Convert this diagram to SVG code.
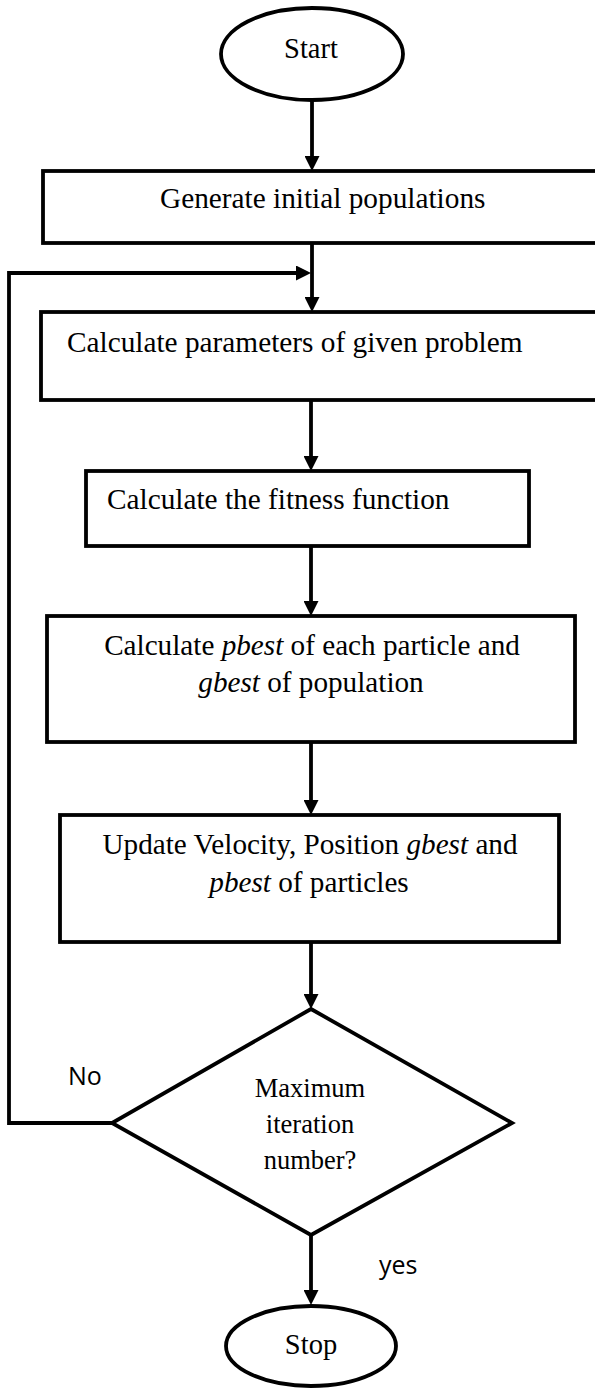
<svg xmlns="http://www.w3.org/2000/svg" width="595" height="1388" viewBox="0 0 595 1388">
<style>
.shape{fill:#fff;stroke:#000;stroke-width:3.8}
.line{fill:none;stroke:#000;stroke-width:3.8}
.t{font-family:"Liberation Serif","Times New Roman",serif;fill:#000}
.lbl{font-family:"Open Sans","Liberation Sans",sans-serif;fill:#000;font-size:25px}
</style>
<defs>
<marker id="arr" markerUnits="userSpaceOnUse" markerWidth="15" markerHeight="15" viewBox="0 0 15 15" refX="8" refY="7.5" orient="auto">
<path d="M0,0 L15,7.5 L0,15 Z" fill="#000"/>
</marker>
</defs>
<rect width="595" height="1388" fill="#fff"/>
<g id="connectors">
<line class="line" x1="312" y1="100" x2="312" y2="164" marker-end="url(#arr)"/>
<line class="line" x1="312" y1="243" x2="312" y2="305" marker-end="url(#arr)"/>
<polyline class="line" points="112,1123 9,1123 9,273 304,273" marker-end="url(#arr)"/>
<line class="line" x1="311" y1="400" x2="311" y2="464" marker-end="url(#arr)"/>
<line class="line" x1="311" y1="546" x2="311" y2="609" marker-end="url(#arr)"/>
<line class="line" x1="311" y1="742" x2="311" y2="808" marker-end="url(#arr)"/>
<line class="line" x1="311" y1="942" x2="311" y2="1002" marker-end="url(#arr)"/>
<line class="line" x1="311" y1="1235" x2="311" y2="1298" marker-end="url(#arr)"/>
<text class="lbl" x="68" y="1085">No</text>
<text class="lbl" x="379" y="1274">yes</text>
</g>
<g id="start">
<ellipse class="shape" cx="312" cy="54" rx="91" ry="46"/>
<text class="t" x="311" y="58" font-size="28.5" text-anchor="middle">Start</text>
</g>
<g id="generate">
<rect class="shape" x="43" y="171" width="570" height="72"/>
<text class="t" x="160" y="208" font-size="29.3">Generate initial populations</text>
</g>
<g id="calc-params">
<rect class="shape" x="41" y="312" width="572" height="88"/>
<text class="t" x="67" y="352" font-size="29.3">Calculate parameters of given problem</text>
</g>
<g id="fitness">
<rect class="shape" x="86" y="471" width="443" height="75"/>
<text class="t" x="107" y="509" font-size="29.3">Calculate the fitness function</text>
</g>
<g id="pbest">
<rect class="shape" x="47" y="616" width="528" height="126"/>
<text class="t" x="312" y="655" font-size="29.2" text-anchor="middle">Calculate <tspan font-style="italic">pbest</tspan> of each particle and</text>
<text class="t" x="311" y="692" font-size="29.2" text-anchor="middle"><tspan font-style="italic">gbest</tspan> of population</text>
</g>
<g id="update">
<rect class="shape" x="60" y="815" width="499" height="127"/>
<text class="t" x="310" y="854" font-size="29.2" text-anchor="middle">Update Velocity, Position <tspan font-style="italic">gbest</tspan> and</text>
<text class="t" x="309" y="892" font-size="29.2" text-anchor="middle"><tspan font-style="italic">pbest</tspan> of particles</text>
</g>
<g id="decision">
<polygon class="shape" points="311,1009 512,1123 311,1235 112,1123"/>
<text class="t" x="310" y="1097" font-size="26.5" text-anchor="middle">Maximum</text>
<text class="t" x="310" y="1133" font-size="26.5" text-anchor="middle">iteration</text>
<text class="t" x="310" y="1169" font-size="26.5" text-anchor="middle">number?</text>
</g>
<g id="stop">
<ellipse class="shape" cx="311" cy="1346" rx="85" ry="40"/>
<text class="t" x="311" y="1354" font-size="28.5" text-anchor="middle">Stop</text>
</g>
</svg>
